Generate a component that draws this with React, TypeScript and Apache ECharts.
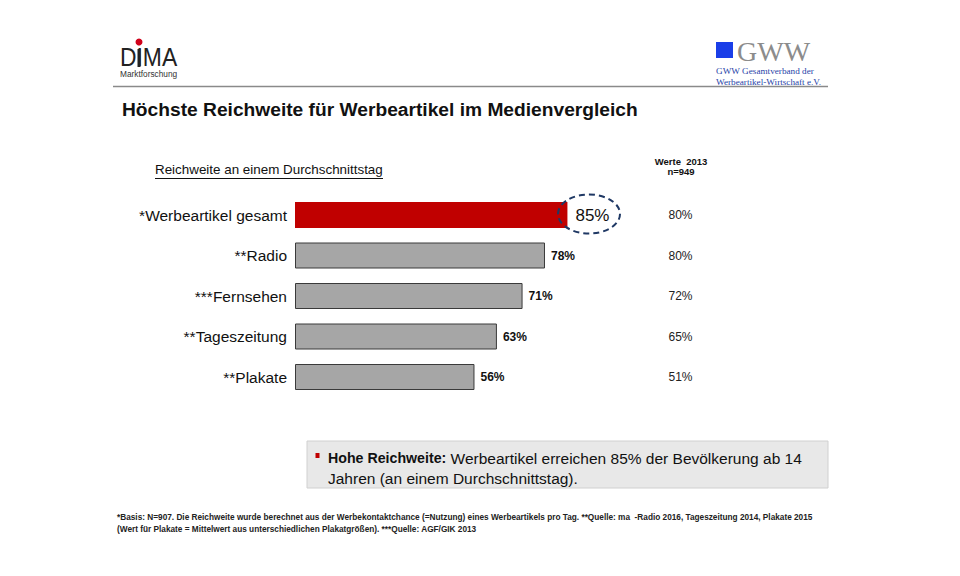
import React, { useEffect, useRef } from "react";
import * as echarts from "echarts";

const categories = ["*Werbeartikel gesamt", "**Radio", "***Fernsehen", "**Tageszeitung", "**Plakate"];
const values2016 = [85, 78, 71, 63, 56];
const values2013 = [80, 80, 72, 65, 51];
const title = "Höchste Reichweite für Werbeartikel im Medienvergleich";
const subtitle = "Reichweite an einem Durchschnittstag";
const col2013Header = "Werte  2013\nn=949";
const footnote1 =
  "*Basis: N=907. Die Reichweite wurde berechnet aus der Werbekontaktchance (=Nutzung) eines Werbeartikels pro Tag. **Quelle: ma  -Radio 2016, Tageszeitung 2014, Plakate 2015";
const footnote2 = "(Wert für Plakate = Mittelwert aus unterschiedlichen Plakatgrößen). ***Quelle: AGF/GIK 2013";

const FONT = "Liberation Sans, Arial, sans-serif";

export default function App() {
  const ref = useRef<HTMLDivElement>(null);
  useEffect(() => {
    document.body.style.margin = "0";
    const chart = echarts.init(ref.current!, null, { renderer: "svg" });
    const option: any = {
      animation: false,
      backgroundColor: "#ffffff",
      textStyle: { fontFamily: FONT },
      grid: { left: 295, top: 194.75, width: 320.5, height: 202.5, containLabel: false },
      xAxis: { type: "value", min: 0, max: 100, show: false },
      yAxis: [
        {
          type: "category",
          data: categories,
          inverse: true,
          axisLine: { show: false },
          axisTick: { show: false },
          axisLabel: { color: "#111", fontSize: 15.5, fontFamily: FONT, margin: 8 },
        },
        {
          type: "category",
          data: categories,
          inverse: true,
          position: "right",
          axisLine: { show: false },
          axisTick: { show: false },
          axisLabel: {
            color: "#222",
            fontSize: 12,
            fontFamily: FONT,
            align: "center",
            margin: 65,
            formatter: (_v: string, i: number) => values2013[i] + "%",
          },
        },
      ],
      series: [
        {
          type: "bar",
          yAxisIndex: 0,
          barWidth: 26,
          data: values2016.map((v, i) =>
            i === 0
              ? {
                  value: v,
                  itemStyle: { color: "#c00000", borderColor: "#c00000", borderWidth: 0 },
                  label: { fontSize: 17, fontWeight: "normal", distance: 8, color: "#111" },
                }
              : { value: v }
          ),
          itemStyle: { color: "#a6a6a6", borderColor: "#3a3a3a", borderWidth: 1 },
          label: {
            show: true,
            position: "right",
            distance: 6,
            formatter: "{c}%",
            fontSize: 12,
            fontWeight: "bold",
            color: "#111",
            fontFamily: FONT,
          },
        },
      ],
      graphic: [
        // header line
        { type: "line", shape: { x1: 113, y1: 86.5, x2: 828, y2: 86.5 }, style: { stroke: "#8a8a8a", lineWidth: 1.5 } },
        // DIMA logo
        { type: "text", x: 120, y: 44, scaleX: 0.88, style: { text: "DIMA", fontSize: 26, fontFamily: FONT, fill: "#222" } },
        { type: "rect", shape: { x: 137.5, y: 49, width: 3, height: 18 }, style: { fill: "#222" } },
        { type: "circle", shape: { cx: 139, cy: 42, r: 3.5 }, style: { fill: "#d0021b" } },
        { type: "text", x: 120, y: 70, style: { text: "Marktforschung", fontSize: 8.3, fontFamily: FONT, fill: "#333" } },
        // GWW logo
        { type: "rect", shape: { x: 716, y: 42, width: 17, height: 16 }, style: { fill: "#1a3ee8" } },
        {
          type: "text",
          x: 737,
          y: 37,
          style: { text: "GWW", fontSize: 28, fontFamily: "Liberation Serif, serif", fill: "#8c8c8c" },
        },
        {
          type: "text",
          x: 716,
          y: 66,
          style: { text: "GWW Gesamtverband der", fontSize: 9.2, fontFamily: "Liberation Serif, serif", fill: "#1f3fa8" },
        },
        {
          type: "text",
          x: 716,
          y: 77,
          style: { text: "Werbeartikel-Wirtschaft e.V.", fontSize: 9.2, fontFamily: "Liberation Serif, serif", fill: "#1f3fa8" },
        },
        // title
        {
          type: "text",
          x: 122,
          y: 100,
          style: { text: title, fontSize: 19.2, fontWeight: "bold", fontFamily: FONT, fill: "#111" },
        },
        // subtitle underlined
        {
          type: "text",
          x: 155,
          y: 163,
          style: { text: subtitle, fontSize: 13.4, fontFamily: FONT, fill: "#111" },
        },
        { type: "line", shape: { x1: 155, y1: 178.5, x2: 383, y2: 178.5 }, style: { stroke: "#111", lineWidth: 1 } },
        // 2013 header
        {
          type: "text",
          x: 681,
          y: 156,
          style: {
            text: col2013Header,
            fontSize: 9.5,
            fontWeight: "bold",
            fontFamily: FONT,
            fill: "#111",
            align: "center",
            lineHeight: 10,
          },
        },
        // dashed ellipse
        {
          type: "ellipse",
          shape: { cx: 589, cy: 214, rx: 31, ry: 19.5 },
          style: { fill: "none", stroke: "#1f3864", lineWidth: 2, lineDash: [6, 4] },
          z: 10,
        },
        // summary box
        {
          type: "rect",
          shape: { x: 307, y: 441, width: 521, height: 47 },
          style: { fill: "#e8e8e8", stroke: "#d0d0d0", lineWidth: 1 },
        },
        { type: "rect", shape: { x: 315.5, y: 453, width: 4, height: 5 }, style: { fill: "#c00000" } },
        {
          type: "text",
          x: 328,
          y: 448,
          style: {
            text: "{b|Hohe Reichweite:} Werbeartikel erreichen 85% der Bevölkerung ab 14\nJahren (an einem Durchschnittstag).",
            fontSize: 15.5,
            fontFamily: FONT,
            fill: "#111",
            lineHeight: 20,
            rich: { b: { fontWeight: "bold", fontSize: 14.2, fontFamily: FONT, fill: "#111" } },
          },
        },
        // footnotes
        {
          type: "text",
          x: 117,
          y: 512,
          style: {
            text: footnote1 + "\n" + footnote2,
            fontSize: 8.25,
            fontFamily: "Liberation Sans Narrow, Liberation Sans, sans-serif",
            fontWeight: "bold",
            fill: "#222",
            lineHeight: 11.5,
          },
        },
      ],
    };
    chart.setOption(option);
    return () => chart.dispose();
  }, []);
  return <div ref={ref} style={{ width: 960, height: 576, position: "fixed", left: 0, top: 0 }} />;
}
